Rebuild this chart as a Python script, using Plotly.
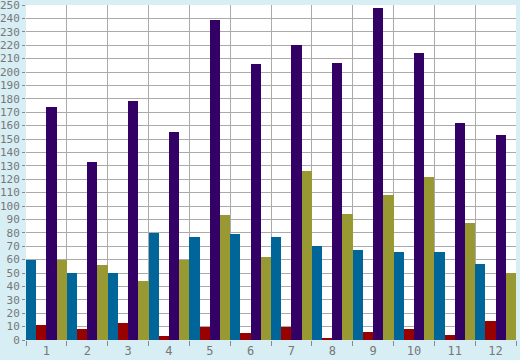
import plotly.graph_objects as go

categories = [1, 2, 3, 4, 5, 6, 7, 8, 9, 10, 11, 12]
series_blue = [60, 50, 50, 80, 77, 79, 77, 70, 67, 66, 66, 57]
series_red = [11, 8, 13, 3, 10, 5, 10, 1, 6, 8, 4, 14]
series_purple = [174, 133, 178, 155, 239, 206, 220, 207, 248, 214, 162, 153]
series_olive = [60, 56, 44, 60, 93, 62, 126, 94, 108, 122, 87, 50]
y_ticks = list(range(0, 251, 10))

colors = ["#006699", "#990000", "#330066", "#999933"]
fig = go.Figure()
for vals, c in zip([series_blue, series_red, series_purple, series_olive], colors):
    fig.add_trace(go.Bar(x=categories, y=vals, marker=dict(color=c, line=dict(width=0))))

bounds = [c - 0.5 for c in categories] + [categories[-1] + 0.5]
fig.update_layout(
    width=520, height=360,
    margin=dict(l=26, r=4, t=5, b=20, autoexpand=False),
    paper_bgcolor="#D8EEF5",
    plot_bgcolor="#FFFFFF",
    barmode="group", bargap=0, bargroupgap=0,
    showlegend=False,
    font=dict(family="DejaVu Sans Mono", size=11, color="#777777"),
)
fig.update_xaxes(
    range=[0.5, 12.5], tickvals=categories, ticktext=[str(c) for c in categories],
    showgrid=False, ticks="", zeroline=False, showline=False, automargin=False,
    minor=dict(tickvals=bounds, showgrid=True, gridcolor="#AAAAAA", gridwidth=1,
               ticks="outside", ticklen=5, tickcolor="#888888"),
    tickfont=dict(size=12, color="#777777"), ticklabelstandoff=2,
    ticklabeloverflow="allow",
)
fig.update_yaxes(
    range=[0, 250], tickvals=y_ticks, showgrid=True, gridcolor="#AAAAAA", gridwidth=1,
    zeroline=False, ticks="outside", ticklen=3, tickcolor="#888888", showline=False,
    automargin=False,
    tickfont=dict(size=11, color="#777777"), ticklabelstandoff=0,
    ticklabeloverflow="allow",
)
fig.write_html(
    "out.html",
    config={"displayModeBar": False},
    post_script="document.body.style.margin='0';document.body.style.padding='0';document.body.style.overflow='hidden';",
)
